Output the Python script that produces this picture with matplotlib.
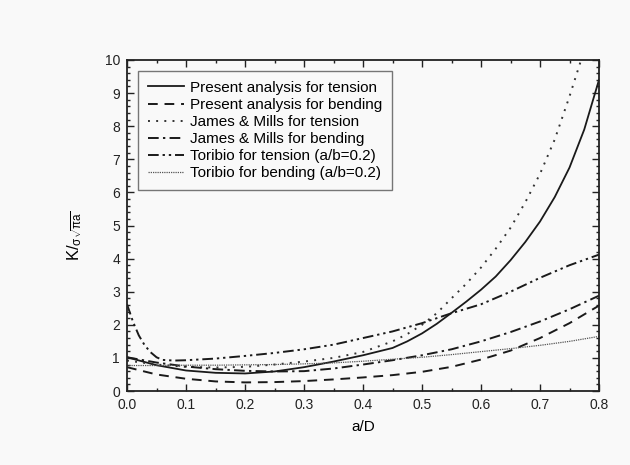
import numpy as np
import matplotlib
matplotlib.use("Agg")
import matplotlib.pyplot as plt
from matplotlib.ticker import MultipleLocator

plt.rcParams['font.family'] = ['Liberation Sans', 'DejaVu Sans']
plt.rcParams['mathtext.fontset'] = 'custom'
plt.rcParams['mathtext.rm'] = 'Liberation Sans'
plt.rcParams['mathtext.it'] = 'Liberation Sans'

# normalised SIF vs crack depth a/D, values read per curve
aD = [0.0, 0.05, 0.1, 0.15, 0.2, 0.25, 0.3, 0.35, 0.4, 0.45, 0.5, 0.55,
      0.6, 0.65, 0.7, 0.75, 0.8]

pt_aD = [0.0, 0.05, 0.1, 0.15, 0.2, 0.25, 0.3, 0.35, 0.4, 0.45, 0.475, 0.5,
         0.525, 0.55, 0.575, 0.6, 0.625, 0.65, 0.675, 0.7, 0.725, 0.75,
         0.775, 0.8]
present_tension = [1.02, 0.78, 0.62, 0.55, 0.53, 0.59, 0.72, 0.89, 1.08, 1.3,
                   1.5, 1.74, 2.03, 2.36, 2.7, 3.06, 3.46, 3.95, 4.5, 5.12,
                   5.86, 6.75, 7.9, 9.4]
present_bending = [0.72, 0.5, 0.37, 0.29, 0.26, 0.27, 0.3, 0.35, 0.41, 0.48,
                   0.58, 0.73, 0.95, 1.22, 1.6, 2.05, 2.58]

jm_aD = [0.0, 0.05, 0.1, 0.15, 0.2, 0.25, 0.3, 0.35, 0.4, 0.45, 0.475, 0.5,
         0.525, 0.55, 0.575, 0.6, 0.625, 0.65, 0.675, 0.7, 0.725, 0.75,
         0.775]
jm_tension = [0.92, 0.8, 0.73, 0.71, 0.73, 0.8, 0.89, 1.0, 1.18, 1.5, 1.72,
              2.0, 2.35, 2.8, 3.24, 3.73, 4.3, 4.93, 5.7, 6.56, 7.6, 8.9,
              10.3]
jm_bending = [1.02, 0.86, 0.74, 0.66, 0.61, 0.59, 0.6, 0.68, 0.8, 0.93, 1.08,
              1.26, 1.5, 1.78, 2.1, 2.47, 2.88]

tor_aD = [0.0, 0.01, 0.02, 0.03, 0.04, 0.05, 0.06, 0.08, 0.1, 0.15, 0.2, 0.25,
          0.3, 0.35, 0.4, 0.45, 0.5, 0.55, 0.6, 0.65, 0.7, 0.75, 0.8]
toribio_tension = [2.62, 2.1, 1.68, 1.38, 1.17, 1.02, 0.94, 0.92, 0.93, 0.98,
                   1.06, 1.15, 1.26, 1.4, 1.6, 1.8, 2.05, 2.35, 2.62, 3.0,
                   3.42, 3.8, 4.12]
toribio_bending = [0.77, 0.77, 0.78, 0.78, 0.79, 0.8, 0.82, 0.85, 0.9, 0.96,
                   1.02, 1.1, 1.19, 1.28, 1.38, 1.5, 1.65]

fig = plt.figure(figsize=(6.3, 4.65), dpi=100, facecolor='#f9f9f9')
ax = fig.add_axes([0.2016, 0.1591, 0.7492, 0.7119])
ax.set_facecolor('#f9f9f9')

k = '#1a1a1a'
ax.plot(pt_aD, present_tension, color=k, lw=1.3, ls='-',
        label='Present analysis for tension')
ax.plot(aD, present_bending, color=k, lw=1.4, ls=(0, (5, 3.5)),
        label='Present analysis for bending')
ax.plot(jm_aD, jm_tension, color='#333333', lw=1.4, ls=(0, (1, 3.2)),
        label='James & Mills for tension')
ax.plot(aD, jm_bending, color=k, lw=1.4, ls=(0, (5.5, 2.2, 1.2, 2.2)),
        label='James & Mills for bending')
ax.plot(tor_aD, toribio_tension, color=k, lw=1.4,
        ls=(0, (5.5, 2, 1.2, 2, 1.2, 2)),
        label='Toribio for tension (a/b=0.2)')
ax.plot(aD, toribio_bending, color='#555555', lw=0.9, ls=(0, (1, 0.8)),
        label='Toribio for bending (a/b=0.2)')

ax.set_xlim(0, 0.8)
ax.set_ylim(0, 10)
ax.xaxis.set_major_locator(MultipleLocator(0.1))
ax.xaxis.set_minor_locator(MultipleLocator(0.05))
ax.yaxis.set_major_locator(MultipleLocator(1))
ax.yaxis.set_minor_locator(MultipleLocator(0.2))
ax.xaxis.set_major_formatter(plt.FormatStrFormatter('%.1f'))
ax.tick_params(which='both', direction='in', top=True, right=True,
               labelsize=10, colors='#222222', width=1.0)
ax.tick_params(which='major', length=5, pad=5)
ax.tick_params(which='minor', length=2.5)
for s in ax.spines.values():
    s.set_linewidth(1.3)
    s.set_color('#222222')

ax.set_xlabel('a/D', fontsize=11, labelpad=6)
ax.set_ylabel(r'K/$_{\sigma\sqrt{\pi a}}$', fontsize=12, labelpad=8)
ax.yaxis.set_label_coords(-0.092, 0.47)

leg = ax.legend(loc='upper left', bbox_to_anchor=(0.024, 0.967), fontsize=11,
                frameon=True, fancybox=False, edgecolor='#555555',
                handlelength=2.35, handletextpad=0.35, labelspacing=0.2,
                borderpad=0.65, borderaxespad=0.0)
leg.get_frame().set_linewidth(1.0)
leg.get_frame().set_facecolor('#f9f9f9')

fig.savefig('out.png', dpi=100, facecolor=fig.get_facecolor())
